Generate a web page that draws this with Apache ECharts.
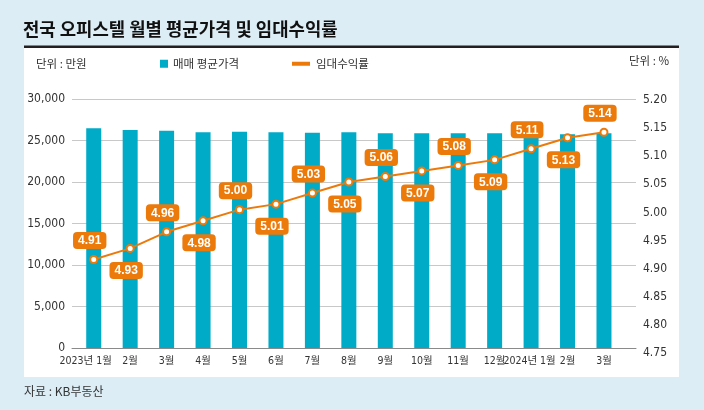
<!DOCTYPE html>
<html><head><meta charset="utf-8">
<script src="https://cdn.jsdelivr.net/npm/echarts@6/dist/echarts.min.js"></script>
<style>html,body{margin:0;padding:0;background:#dcedf5}#c{width:704px;height:410px}</style>
</head><body><div id="c"></div>
<script>
const categories = ['2023년 1월','2월','3월','4월','5월','6월','7월','8월','9월','10월','11월','12월','2024년 1월','2월','3월'];
const priceValues = [26470, 26270, 26180, 25990, 26060, 25990, 25940, 25990, 25870, 25870, 25870, 25870, 25940, 25750, 25870];
const yieldValues = [4.91, 4.93, 4.96, 4.98, 5.00, 5.01, 5.03, 5.05, 5.06, 5.07, 5.08, 5.09, 5.11, 5.13, 5.14];
const leftTicks = [0, 30000, 5000];
const rightTicks = [4.75, 5.20, 0.05];

const NUM = "'Liberation Sans Narrow','DejaVu Sans Condensed','Liberation Sans','Noto Sans CJK KR',sans-serif";
const KR = "'Noto Sans CJK KR',sans-serif";
const BLUE = '#00abc8';
const ORANGE = '#ec7a0a';

const chart = echarts.init(document.getElementById('c'), null, {renderer:'canvas'});
const lineData = yieldValues.map((v,i)=>({
  value: v,
  label: i%2===0 ? {position:'top', distance:6} : {position:'bottom', distance:9}
}));
chart.setOption({
  backgroundColor:'#dcedf5',
  animation:false,
  graphic:[
    {type:'rect', z:-10, shape:{x:24,y:47,width:655,height:330}, style:{fill:'#ffffff'}},
    {type:'rect', z:-9, shape:{x:24,y:45.5,width:655,height:2.5}, style:{fill:'#231f20'}},
    {type:'text', left:23, top:20, style:{text:'전국 오피스텔 월별 평균가격 및 임대수익률', font:"bold 17.8px 'Noto Sans CJK KR',sans-serif", fill:'#111'}},
    {type:'text', left:36, top:58, style:{text:'단위 : 만원', font:"11.5px 'Noto Sans CJK KR',sans-serif", fill:'#333'}},
    {type:'text', left:629, top:55, style:{text:'단위 : %', font:"11.5px 'Noto Sans CJK KR',sans-serif", fill:'#333'}},
    {type:'text', left:24, top:385, style:{text:'자료 : KB부동산', font:"12px 'Noto Sans CJK KR',sans-serif", fill:'#333'}}
  ],
  legend:[
    {data:['매매 평균가격'], left:160, top:58, padding:0, icon:'rect', itemWidth:8, itemHeight:8, itemGap:5,
     textStyle:{fontFamily:KR, fontSize:11.5, color:'#333', padding:[0,0,0,0]}},
    {data:['임대수익률'], left:292, top:58, padding:0, icon:'rect', itemWidth:16, itemHeight:2,
     textStyle:{fontFamily:KR, fontSize:11.5, color:'#333', padding:[0,0,0,2]}}
  ],
  grid:[
    {left:72, right:68, top:99, bottom:62},
    {left:75.5, right:81.8, top:99, bottom:62},
    {left:72, right:68, top:100, bottom:57}
  ],
  xAxis:[
    {type:'value', gridIndex:0, min:0, max:1, axisLine:{show:true, onZero:false, lineStyle:{color:'#8a8a8a', width:1}},
     axisTick:{show:false}, axisLabel:{show:false}, splitLine:{show:false}},
    {type:'category', gridIndex:1, data:categories, boundaryGap:true,
     axisLine:{show:false}, axisTick:{show:false},
     axisLabel:{interval:0, margin:8, fontFamily:NUM, fontSize:10.5, color:'#333',
       formatter:function(v, i){ if(i===0) return '{a|'+v+'}'; if(i===12) return '{b|'+v+'}'; return v; },
       rich:{a:{fontFamily:NUM, fontSize:10.5, color:'#333', padding:[0,16,0,0]},
             b:{fontFamily:NUM, fontSize:10.5, color:'#333', padding:[0,3,0,0]}}}},
    {type:'value', gridIndex:2, min:0, max:1, show:false}
  ],
  yAxis:[
    {type:'value', gridIndex:0, min:leftTicks[0], max:leftTicks[1], interval:leftTicks[2],
     axisLine:{show:false}, axisTick:{show:false},
     axisLabel:{margin:7, fontFamily:NUM, fontSize:12, color:'#333',
       formatter:v=>v.toLocaleString('en-US')},
     splitLine:{show:true, lineStyle:{color:'#c8c8c8', width:1}}},
    {type:'value', gridIndex:1, min:leftTicks[0], max:leftTicks[1], show:false},
    {type:'value', gridIndex:1, min:rightTicks[0], max:rightTicks[1], show:false, position:'right'},
    {type:'value', gridIndex:2, position:'right', min:rightTicks[0], max:rightTicks[1], interval:rightTicks[2],
     axisLine:{show:false}, axisTick:{show:false}, splitLine:{show:false},
     axisLabel:{margin:7, fontFamily:NUM, fontSize:12, color:'#333', formatter:v=>v.toFixed(2)}}
  ],
  series:[
    {name:'매매 평균가격', type:'bar', xAxisIndex:1, yAxisIndex:1, data:priceValues, barWidth:15,
     itemStyle:{color:BLUE}, z:2},
    {name:'임대수익률', type:'line', xAxisIndex:1, yAxisIndex:2, data:lineData,
     symbol:'circle', symbolSize:7, lineStyle:{color:ORANGE, width:2},
     itemStyle:{color:'#ffffff', borderColor:ORANGE, borderWidth:2}, color:ORANGE, z:5,
     label:{show:true, formatter:p=>p.value.toFixed(2), offset:[-4,0],
       fontFamily:"'Liberation Sans',Arial,sans-serif", fontWeight:'bold', fontSize:12, color:'#fff',
       backgroundColor:ORANGE, borderRadius:4, padding:[3,5,2,5]}}
  ]
});
</script></body></html>
